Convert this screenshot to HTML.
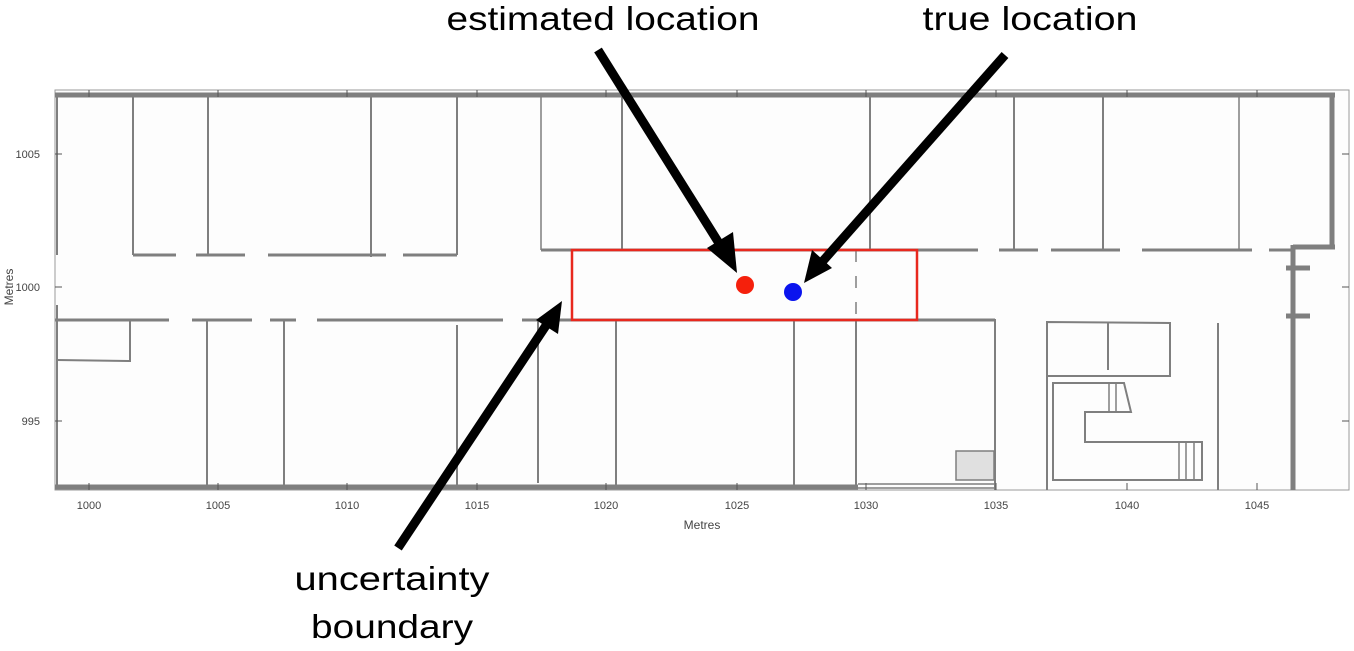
<!DOCTYPE html>
<html><head><meta charset="utf-8"><style>html,body{margin:0;padding:0;background:#fff;}svg{display:block}</style></head>
<body>
<svg width="1354" height="651" viewBox="0 0 1354 651" xmlns="http://www.w3.org/2000/svg" font-family="Liberation Sans, Arial, sans-serif">
<rect width="1354" height="651" fill="#fff"/>
<rect x="55" y="90" width="1294" height="400" fill="#fdfdfd" stroke="#9a9a9a" stroke-width="1"/>
<g stroke="#7f7f7f" fill="none" stroke-linecap="butt">
<!-- thick outer walls -->
<line x1="55" y1="95" x2="1335" y2="95" stroke-width="5"/>
<line x1="1332" y1="93" x2="1332" y2="249" stroke-width="5"/>
<line x1="55" y1="487" x2="858" y2="487" stroke-width="5"/>
<line x1="1293" y1="247" x2="1335" y2="247" stroke-width="5"/>
<line x1="1293" y1="245" x2="1293" y2="490" stroke-width="5"/>
<line x1="1286" y1="268" x2="1310" y2="268" stroke-width="5"/>
<line x1="1286" y1="316" x2="1310" y2="316" stroke-width="5"/>
<line x1="57" y1="95" x2="57" y2="255" stroke-width="2"/>
<line x1="57" y1="305" x2="57" y2="487" stroke-width="2"/>
<!-- upper verticals -->
<g stroke-width="2">
<line x1="133" y1="95" x2="133" y2="255"/>
<line x1="208" y1="95" x2="208" y2="255"/>
<line x1="371" y1="95" x2="371" y2="257"/>
<line x1="457" y1="95" x2="457" y2="255"/>
<line x1="541" y1="95" x2="541" y2="250" stroke-width="1.5"/>
<line x1="622" y1="95" x2="622" y2="250"/>
<line x1="870" y1="95" x2="870" y2="250"/>
<line x1="1014" y1="95" x2="1014" y2="250"/>
<line x1="1103" y1="95" x2="1103" y2="250"/>
<line x1="1239" y1="95" x2="1239" y2="250" stroke-width="1.5"/>
</g>
<!-- upper corridor wall -->
<g stroke-width="3">
<line x1="133" y1="255" x2="176" y2="255"/>
<line x1="196" y1="255" x2="245" y2="255"/>
<line x1="268" y1="255" x2="386" y2="255"/>
<line x1="403" y1="255" x2="457" y2="255"/>
<line x1="541" y1="250" x2="917" y2="250"/>
<line x1="917" y1="250" x2="978" y2="250"/>
<line x1="999" y1="250" x2="1038" y2="250"/>
<line x1="1051" y1="250" x2="1120" y2="250"/>
<line x1="1142" y1="250" x2="1252" y2="250"/>
<line x1="1269" y1="250" x2="1293" y2="250"/>
</g>
<!-- lower corridor wall -->
<g stroke-width="3">
<line x1="55" y1="320" x2="169" y2="320"/>
<line x1="192" y1="320" x2="252" y2="320"/>
<line x1="270" y1="320" x2="296" y2="320"/>
<line x1="317" y1="320" x2="503" y2="320"/>
<line x1="522" y1="320" x2="572" y2="320"/>
<line x1="572" y1="320" x2="995" y2="320"/>
</g>
<g stroke-width="2">
<line x1="995" y1="319" x2="995" y2="490"/>
<polyline points="57,360 130,361 130,320"/>
<line x1="207" y1="320" x2="207" y2="487"/>
<line x1="284" y1="320" x2="284" y2="487"/>
<line x1="457" y1="325" x2="457" y2="487"/>
<line x1="538" y1="320" x2="538" y2="483"/>
<line x1="616" y1="320" x2="616" y2="487"/>
<line x1="794" y1="320" x2="794" y2="487"/>
<line x1="856" y1="320" x2="856" y2="487"/>
<line x1="856" y1="250" x2="856" y2="320" stroke-dasharray="12,14" stroke-width="1.5"/>
<line x1="858" y1="484" x2="995" y2="484" stroke-width="1.5"/>
<line x1="858" y1="488" x2="995" y2="488" stroke-width="1.5"/>
<!-- right rooms -->
<polyline points="1047,490 1047,322 1170,323 1170,376 1047,376"/>
<line x1="1108" y1="322" x2="1108" y2="370"/>
<polygon points="1053,383 1053,480 1202,480 1202,442 1085,442 1085,412 1131,412 1124,383"/>
<line x1="1109" y1="383" x2="1109" y2="412" stroke-width="1.5"/>
<line x1="1116" y1="383" x2="1116" y2="412" stroke-width="1.5"/>
<line x1="1179" y1="442" x2="1179" y2="480" stroke-width="1.5"/>
<line x1="1186" y1="442" x2="1186" y2="480" stroke-width="1.5"/>
<line x1="1194" y1="442" x2="1194" y2="480" stroke-width="1.5"/>
<line x1="1218" y1="323" x2="1218" y2="490"/>
</g>
<rect x="956" y="451" width="38" height="29" fill="#e0e0e0" stroke-width="1.5"/>
</g>
<!-- ticks -->
<g stroke="#555" stroke-width="1">
<line x1="55" y1="154" x2="62" y2="154"/><line x1="55" y1="287" x2="62" y2="287"/><line x1="55" y1="421" x2="62" y2="421"/>
<line x1="1349" y1="154" x2="1342" y2="154"/><line x1="1349" y1="287" x2="1342" y2="287"/><line x1="1349" y1="421" x2="1342" y2="421"/>
<g id="bt"></g>
<line x1="89" y1="490" x2="89" y2="483"/><line x1="218" y1="490" x2="218" y2="483"/><line x1="347" y1="490" x2="347" y2="483"/><line x1="477" y1="490" x2="477" y2="483"/><line x1="606" y1="490" x2="606" y2="483"/><line x1="737" y1="490" x2="737" y2="483"/><line x1="866" y1="490" x2="866" y2="483"/><line x1="996" y1="490" x2="996" y2="483"/><line x1="1127" y1="490" x2="1127" y2="483"/><line x1="1257" y1="490" x2="1257" y2="483"/>
<line x1="89" y1="90" x2="89" y2="97"/><line x1="218" y1="90" x2="218" y2="97"/><line x1="347" y1="90" x2="347" y2="97"/><line x1="477" y1="90" x2="477" y2="97"/><line x1="606" y1="90" x2="606" y2="97"/><line x1="737" y1="90" x2="737" y2="97"/><line x1="866" y1="90" x2="866" y2="97"/><line x1="996" y1="90" x2="996" y2="97"/><line x1="1127" y1="90" x2="1127" y2="97"/><line x1="1257" y1="90" x2="1257" y2="97"/>
</g>
<g fill="#444" font-size="11">
<text x="40" y="158" text-anchor="end">1005</text>
<text x="40" y="291" text-anchor="end">1000</text>
<text x="40" y="425" text-anchor="end">995</text>
<g text-anchor="middle">
<text x="89" y="509">1000</text><text x="218" y="509">1005</text><text x="347" y="509">1010</text><text x="477" y="509">1015</text><text x="606" y="509">1020</text><text x="737" y="509">1025</text><text x="866" y="509">1030</text><text x="996" y="509">1035</text><text x="1127" y="509">1040</text><text x="1257" y="509">1045</text>
<text x="702" y="529" font-size="12">Metres</text>
<text transform="translate(13,287) rotate(-90)" font-size="12">Metres</text>
</g>
</g>
<!-- uncertainty box and dots -->
<rect x="572" y="250" width="345" height="70" fill="none" stroke="#e8281e" stroke-width="2.5"/>
<circle cx="745" cy="285" r="9" fill="#f5200c"/>
<circle cx="793" cy="292" r="9" fill="#0a14ee"/>
<!-- arrows -->
<g stroke="#000" stroke-width="9" fill="#000">
<line x1="598" y1="50" x2="722" y2="248"/>
<polygon points="737,273 707,248 733,232" stroke="none"/>
<line x1="1005" y1="55" x2="822" y2="262"/>
<polygon points="804,283 812,250 832,268" stroke="none"/>
<line x1="398" y1="548" x2="549" y2="321"/>
<polygon points="562,301 558,334 536,320" stroke="none"/>
</g>
<!-- labels -->
<g fill="#000" font-size="33" text-anchor="middle">
<text x="603" y="30" textLength="313" lengthAdjust="spacingAndGlyphs">estimated location</text>
<text x="1030" y="30" textLength="215" lengthAdjust="spacingAndGlyphs">true location</text>
<text x="392" y="590" textLength="195" lengthAdjust="spacingAndGlyphs">uncertainty</text>
<text x="392" y="638" textLength="162" lengthAdjust="spacingAndGlyphs">boundary</text>
</g>
</svg>
</body></html>
